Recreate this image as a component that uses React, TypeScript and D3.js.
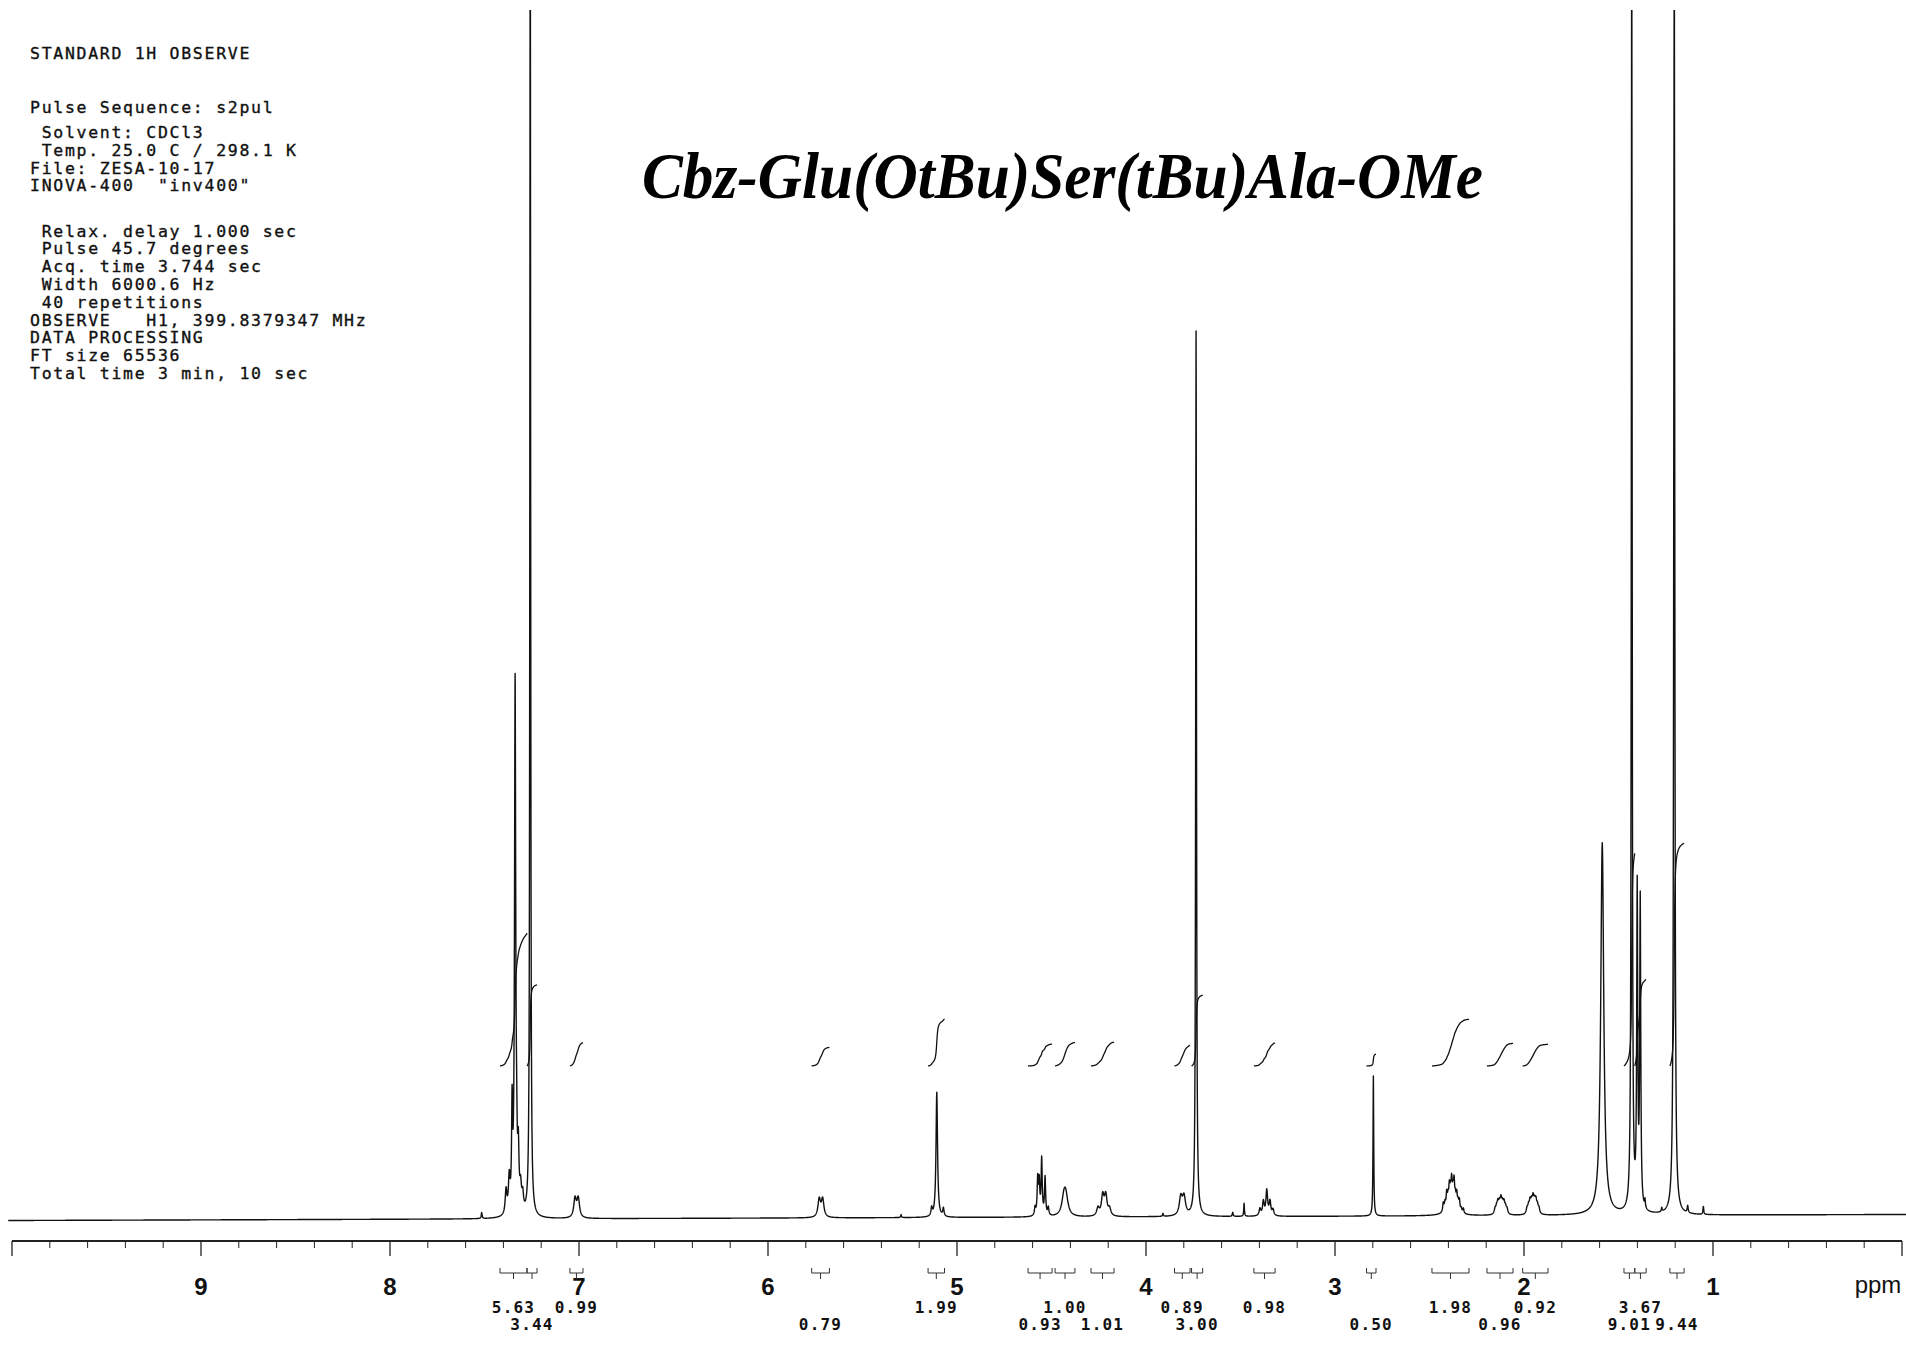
import React, { useMemo } from "react";
import * as d3 from "d3";

// ---------- text data ----------
const HEADER_TITLE = ["STANDARD 1H OBSERVE"];
const HEADER_SEQ = ["Pulse Sequence: s2pul"];
const HEADER_SAMPLE = [" Solvent: CDCl3", " Temp. 25.0 C / 298.1 K", "File: ZESA-10-17", 'INOVA-400  "inv400"'];
const HEADER_ACQ = [
  " Relax. delay 1.000 sec",
  " Pulse 45.7 degrees",
  " Acq. time 3.744 sec",
  " Width 6000.6 Hz",
  " 40 repetitions",
  "OBSERVE   H1, 399.8379347 MHz",
  "DATA PROCESSING",
  "FT size 65536",
  "Total time 3 min, 10 sec",
];
const COMPOUND = "Cbz-Glu(OtBu)Ser(tBu)Ala-OMe";
const SPECTROMETER_MHZ = 399.8379347;

// ---------- axis ----------
const PPM_DOMAIN = [10, 0];
const MAJOR_TICKS = [10, 9, 8, 7, 6, 5, 4, 3, 2, 1, 0];
const MAJOR_LABELS = ["", "9", "8", "7", "6", "5", "4", "3", "2", "1", ""];
const UNIT_LABEL = "ppm";

// ---------- peaks (ppm, height in intensity units, line width in Hz) ----------
const PEAK_PPM = [
  7.515, 7.386, 7.369, 7.354, 7.338, 7.33, 7.321, 7.309, 7.298, 7.258,
  7.021, 7.004,
  5.729, 5.711,
  5.296,
  5.134, 5.107, 5.072,
  4.587, 4.573, 4.565, 4.552, 4.534, 4.517,
  4.434, 4.424,
  4.254, 4.229, 4.213, 4.193,
  3.91,
  3.816, 3.799,
  3.735,
  3.541, 3.481,
  3.397, 3.379, 3.361, 3.344, 3.328,
  2.797,
  2.427, 2.418, 2.409, 2.402, 2.395, 2.389, 2.383, 2.376, 2.37, 2.363, 2.356, 2.349, 2.342, 2.332, 2.321, 2.385,
  2.153, 2.145, 2.138, 2.13, 2.122, 2.114, 2.106, 2.098, 2.09,
  1.984, 1.976, 1.968, 1.96, 1.952, 1.944, 1.937, 1.929, 1.921,
  1.586,
  1.43, 1.401, 1.385, 1.36, 1.271,
  1.205, 1.134, 1.051,
];
const PEAK_HEIGHT = [
  6, 24, 34, 100, 530, 40, 55, 22, 16, 1400,
  19, 19,
  18, 18,
  3,
  8, 125, 8,
  8, 36, 32, 56, 38, 8,
  17, 17,
  8, 20, 20, 7,
  3,
  18, 18,
  885,
  4, 13,
  7, 14, 25, 14, 6,
  140,
  9, 8, 16, 11, 20, 13, 25, 15, 25, 11, 15, 8, 11, 4, 5, 5,
  5, 6, 10, 9, 13, 9, 10, 6, 5,
  5, 7, 11, 10, 14, 10, 11, 7, 5,
  372,
  1300, 317, 307, 8, 4,
  1300, 7, 8,
];
const PEAK_WIDTH_HZ = [
  2.1, 4.2, 4.2, 2.5, 3.0, 2.5, 3.2, 4.2, 4.2, 1.9,
  6.4, 6.4,
  6.4, 6.4,
  2,
  3.2, 3.8, 3.2,
  3, 2.8, 2.8, 2.8, 2.8, 3,
  10.6, 10.6,
  6.4, 6.4, 6.4, 6.4,
  2,
  7.4, 7.4,
  2.1,
  2, 1.7,
  4.2, 4.2, 4.2, 4.2, 4.2,
  1.7,
  3, 3, 3, 3, 3, 3, 3, 3, 3, 3, 3, 3, 3, 3, 3, 30,
  4, 4, 4, 4, 4, 4, 4, 4, 4,
  4, 4, 4, 4, 4, 4, 4, 4, 4,
  7.6,
  2.1, 2.5, 2.5, 2, 2,
  2.5, 2.5, 2,
];

// ---------- integrals ----------
const INTEGRAL_FROM = [7.418, 7.275, 7.048, 5.769, 5.153, 4.624, 4.481, 4.291, 3.849, 3.759, 3.429, 2.833, 2.487, 2.196, 2.007, 1.471, 1.414, 1.228];
const INTEGRAL_TO = [7.275, 7.222, 6.979, 5.675, 5.066, 4.497, 4.376, 4.169, 3.767, 3.7, 3.317, 2.783, 2.291, 2.058, 1.873, 1.414, 1.354, 1.153];
const INTEGRAL_VALUE = [5.63, 3.44, 0.99, 0.79, 1.99, 0.93, 1.0, 1.01, 0.89, 3.0, 0.98, 0.5, 1.98, 0.96, 0.92, 9.01, 3.67, 9.44];

const W = 1906;
const H = 1368;
const MONO = "'DejaVu Sans Mono', monospace";

export default function App() {
  const x = d3.scaleLinear().domain(PPM_DOMAIN).range([12, 1902]);
  const baseline = d3.scaleLinear().domain(PPM_DOMAIN).range([1220.5, 1214.5]);
  const amp = d3.scaleLinear().domain([0, 1000]).range([0, 1000]);
  const integralScale = d3.scaleLinear().domain([0, 1]).range([0, 23.6]);
  const INT_BASE = 1066;
  const AXIS_Y = 1241;

  const { samples, intensity } = useMemo(() => {
    const pxPpm = (PPM_DOMAIN[0] - PPM_DOMAIN[1]) / 1890;
    const step = pxPpm * 0.2;
    const pts: number[] = [];
    for (let p = 10.02; p >= -0.03; p -= step) pts.push(p);
    PEAK_PPM.forEach((c) => pts.push(c));
    pts.sort((a, b) => b - a);
    const hw = PEAK_WIDTH_HZ.map((w) => w / SPECTROMETER_MHZ / 2);
    const inten = (p: number) => {
      let s = 0;
      for (let i = 0; i < PEAK_PPM.length; i++) {
        const d = (p - PEAK_PPM[i]) / hw[i];
        s += PEAK_HEIGHT[i] / (1 + d * d);
      }
      return s;
    };
    return { samples: pts.map((p) => ({ p, v: inten(p) })), intensity: inten };
  }, []);

  const specLine = d3
    .line<{ p: number; v: number }>()
    .x((d) => x(d.p))
    .y((d) => baseline(d.p) - amp(d.v));
  const specPath = specLine(samples) || "";

  const integrals = INTEGRAL_VALUE.map((val, i) => {
    const from = INTEGRAL_FROM[i];
    const to = INTEGRAL_TO[i];
    const n = 200;
    const pts: { p: number; c: number }[] = [];
    let cum = 0;
    let prevV = intensity(from);
    pts.push({ p: from, c: 0 });
    for (let k = 1; k <= n; k++) {
      const p = from - ((from - to) * k) / n;
      const v = intensity(p);
      cum += (v + prevV) / 2;
      prevV = v;
      pts.push({ p, c: cum });
    }
    const total = cum || 1;
    const line = d3
      .line<{ p: number; c: number }>()
      .x((d) => x(d.p))
      .y((d) => INT_BASE - integralScale((val * d.c) / total))
      .curve(d3.curveBasis);
    return { path: line(pts) || "", from, to, val, i };
  });

  const minorTicks = d3.range(0, 50).map((k) => 10 - k * 0.2).filter((t) => Math.abs(t - Math.round(t)) > 1e-6);

  const headerBlocks: { lines: string[]; y0: number }[] = [
    { lines: HEADER_TITLE, y0: 59 },
    { lines: HEADER_SEQ, y0: 112.5 },
    { lines: HEADER_SAMPLE, y0: 138 },
    { lines: HEADER_ACQ, y0: 236.5 },
  ];

  return (
    <svg
      width={W}
      height={H}
      viewBox={`0 0 ${W} ${H}`}
      style={{ position: "absolute", left: 0, top: 0, background: "#fff" }}
    >
      <defs>
        <clipPath id="plotClip">
          <rect x={0} y={10} width={W} height={H - 10} />
        </clipPath>
      </defs>
      <rect x={0} y={0} width={W} height={H} fill="#fff" />

      {/* header text */}
      <g
        fontFamily={MONO}
        fontSize={16.5}
        fill="#111"
        stroke="#111"
        strokeWidth={0.35}
        letterSpacing={1.7}
        style={{ whiteSpace: "pre" }}
      >
        {headerBlocks.map((b, bi) =>
          b.lines.map((t, li) => (
            <text key={`${bi}-${li}`} x={30} y={b.y0 + li * 17.8} xmlSpace="preserve">
              {t}
            </text>
          ))
        )}
      </g>

      {/* compound name */}
      <text
        x={642}
        y={198}
        fontFamily="'Liberation Serif', 'Times New Roman', serif"
        fontStyle="italic"
        fontWeight="bold"
        fontSize={66}
        textLength={841}
        lengthAdjust="spacingAndGlyphs"
        fill="#000"
      >
        {COMPOUND}
      </text>

      {/* spectrum */}
      <g clipPath="url(#plotClip)">
        <path d={specPath} fill="none" stroke="#111" strokeWidth={1.4} strokeLinejoin="round" />
      </g>

      {/* integral curves */}
      <g fill="none" stroke="#111" strokeWidth={1.3}>
        {integrals.map((g) => (
          <path key={g.i} d={g.path} />
        ))}
      </g>

      {/* axis */}
      <g stroke="#222" fill="none">
        <line x1={x(10)} x2={x(0)} y1={AXIS_Y} y2={AXIS_Y} strokeWidth={1.8} />
        {MAJOR_TICKS.map((t) => (
          <line key={`M${t}`} x1={x(t)} x2={x(t)} y1={AXIS_Y} y2={AXIS_Y + 15} strokeWidth={1.3} />
        ))}
        {minorTicks.map((t) => (
          <line key={`m${t.toFixed(1)}`} x1={x(t)} x2={x(t)} y1={AXIS_Y} y2={AXIS_Y + 7} strokeWidth={1} />
        ))}
      </g>
      <g fontFamily="'Liberation Sans', Arial, sans-serif" fontWeight="bold" fontSize={24} fill="#111" textAnchor="middle">
        {MAJOR_TICKS.map((t, i) =>
          MAJOR_LABELS[i] ? (
            <text key={`L${t}`} x={x(t)} y={1295}>
              {MAJOR_LABELS[i]}
            </text>
          ) : null
        )}
        <text x={1878} y={1293} fontWeight="normal">
          {UNIT_LABEL}
        </text>
      </g>

      {/* integral brackets + values */}
      <g stroke="#333" strokeWidth={1} fill="none">
        {integrals.map((g) => {
          const x1 = x(g.from);
          const x2 = x(g.to);
          const xc = (x1 + x2) / 2;
          return <path key={`b${g.i}`} d={`M${x1},1268V1273H${x2}V1268M${xc},1273V1279`} />;
        })}
      </g>
      <g fontFamily={MONO} fontWeight="bold" fontSize={16} fill="#111" textAnchor="middle" letterSpacing={1.2}>
        {integrals.map((g) => (
          <text key={`t${g.i}`} x={(x(g.from) + x(g.to)) / 2} y={g.i % 2 === 0 ? 1313 : 1330}>
            {g.val.toFixed(2)}
          </text>
        ))}
      </g>
    </svg>
  );
}
